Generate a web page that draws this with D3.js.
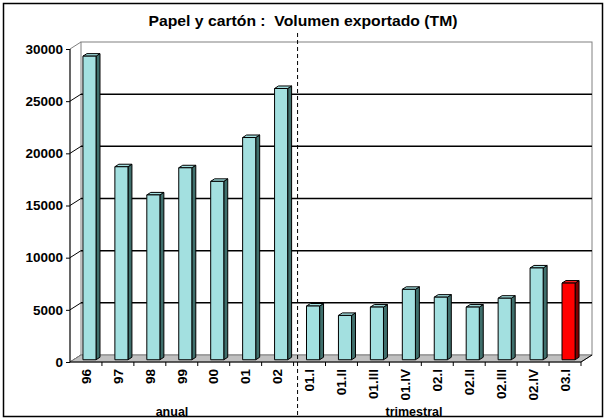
<!DOCTYPE html>
<html><head><meta charset="utf-8">
<script src="https://cdn.jsdelivr.net/npm/d3@7"></script>
<style>body{margin:0;background:#fff}svg{display:block}text{font-family:"Liberation Sans",Arial,sans-serif;font-weight:bold}</style>
</head><body>
<script>
const categories = ["96","97","98","99","00","01","02","01.I","01.II","01.III","01.IV","02.I","02.II","02.III","02.IV","03.I"];
const values = [29100,18500,15800,18400,17100,21300,26000,5150,4250,5050,6750,6000,5050,5900,8800,7350];
const highlighted = ["03.I"];
const yTicks = [0,5000,10000,15000,20000,25000,30000];
const groupLabels = ["anual","trimestral"];
const title = "Papel y cartón :  Volumen exportado (TM)";

const W = 606, H = 420;
const svg = d3.select("body").append("svg").attr("width", W).attr("height", H);

// frame
svg.append("rect").attr("x",3.5).attr("y",3.5).attr("width",599).attr("height",413)
  .attr("fill","#fff").attr("stroke","#000").attr("stroke-width",1.5);

const x = d3.scaleBand().domain(categories).range([70, 581]).paddingInner(0).paddingOuter(0);
const y = d3.scaleLinear().domain([0, 30000]).range([362, 49]);
const DX = 11, DY = -7;           // depth of the 3D box
const f = 0.32, fd = 0.36;        // bar front depth fraction, bar depth fraction
const bw = x.bandwidth() * 0.41;

// back wall
const x0 = x.range()[0], x1 = x.range()[1];
svg.append("rect").attr("x", x0+DX).attr("y", y(30000)+DY).attr("width", x1-x0).attr("height", y(0)-y(30000))
  .attr("fill","#fff").attr("stroke","#808080").attr("stroke-width",1);

// gridlines on back wall + side wall diagonals
yTicks.forEach(t => {
  if (t > 0 && t < 30000) {
    svg.append("line").attr("x1", x0+DX).attr("x2", x1+DX).attr("y1", y(t)+DY).attr("y2", y(t)+DY)
      .attr("stroke","#000").attr("stroke-width",1.5);
  }
  svg.append("line").attr("x1", x0).attr("x2", x0+DX).attr("y1", y(t)).attr("y2", y(t)+DY)
    .attr("stroke", t===30000 ? "#808080" : "#000").attr("stroke-width",1);
});

// floor
svg.append("path").attr("d", `M${x0},${y(0)}L${x1},${y(0)}L${x1+DX},${y(0)+DY}L${x0+DX},${y(0)+DY}Z`)
  .attr("fill","#c0c0c0").attr("stroke","#808080").attr("stroke-width",1);
svg.append("line").attr("x1",x1).attr("y1",y(0)).attr("x2",x1+DX).attr("y2",y(0)+DY).attr("stroke","#000");

// bars
const bars = svg.append("g");
categories.forEach((c, i) => {
  const v = values[i];
  const hi = highlighted.includes(c);
  const front = hi ? "#ff0000" : "#a3e0e0";
  const side = hi ? "#800000" : "#3f6f6c";
  const top = hi ? "#ff2020" : "#a3e0e0";
  const bx = x(c) + (x.bandwidth()-bw)/2 + f*DX;
  const yb = y(0) + f*DY;
  const yt = y(v) + f*DY;
  const ddx = fd*DX, ddy = fd*DY;
  const g = bars.append("g").attr("stroke","#000").attr("stroke-width",1).attr("stroke-linejoin","round");
  g.append("path").attr("d", `M${bx+bw},${yb}L${bx+bw+ddx},${yb+ddy}L${bx+bw+ddx},${yt+ddy}L${bx+bw},${yt}Z`).attr("fill", side);
  g.append("path").attr("d", `M${bx},${yt}L${bx+bw},${yt}L${bx+bw+ddx},${yt+ddy}L${bx+ddx},${yt+ddy}Z`).attr("fill", top);
  g.append("rect").attr("x", bx).attr("y", yt).attr("width", bw).attr("height", yb-yt).attr("fill", front);
});

// y axis
const yAxis = svg.append("g").attr("transform", `translate(${x0},0)`)
  .call(d3.axisLeft(y).tickValues(yTicks).tickFormat(d3.format("d")).tickSize(4).tickPadding(3));
yAxis.select(".domain").attr("stroke","#000").attr("stroke-width",1.2).attr("d", `M0,${y(0)}V${y(30000)}`);
yAxis.selectAll("text").style("font-size","13.5px").attr("fill","#000").style("font-family","'Liberation Sans',Arial,sans-serif").style("font-weight","bold");

// x axis
const xAxis = svg.append("g").attr("transform", `translate(0,${y(0)})`);
xAxis.append("line").attr("x1", x0).attr("x2", x1).attr("stroke","#000").attr("stroke-width",1.2);
categories.forEach(c => {
  const xb = x(c) + x.bandwidth();
  xAxis.append("line").attr("x1", xb).attr("x2", xb).attr("y1",0).attr("y2",4).attr("stroke","#000");
  xAxis.append("text").attr("transform", `translate(${x(c)+x.bandwidth()/2},7) rotate(-90)`)
    .attr("text-anchor","end").attr("dy","0.35em").style("font-size","13.5px").text(c);
});

// group separator
const sepX = x(categories[7]) + 4;
svg.append("line").attr("x1", sepX).attr("x2", sepX).attr("y1", 33).attr("y2", 416)
  .attr("stroke","#000").attr("stroke-width",1).attr("stroke-dasharray","4,3");

// group labels
svg.append("text").attr("x", 172).attr("y", 416).attr("text-anchor","middle").style("font-size","12.5px").text(groupLabels[0]);
svg.append("text").attr("x", 414).attr("y", 416).attr("text-anchor","middle").style("font-size","12.5px").text(groupLabels[1]);

// title
svg.append("text").attr("x", 303).attr("y", 26).attr("text-anchor","middle").style("font-size","14px")
  .attr("textLength", 309).attr("lengthAdjust","spacingAndGlyphs")
  .style("white-space","pre").text(title);
</script>
</body></html>
